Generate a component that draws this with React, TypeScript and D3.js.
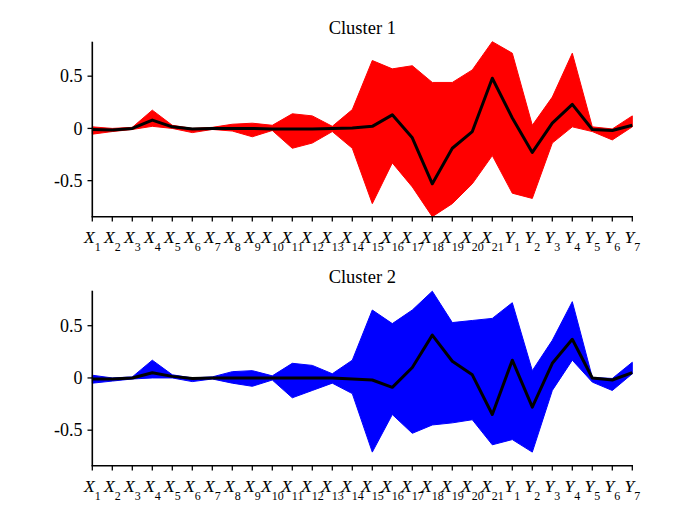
import * as d3 from "d3";
import { useEffect } from "react";

const categories = [
  "X1", "X2", "X3", "X4", "X5", "X6", "X7", "X8", "X9", "X10", "X11", "X12", "X13", "X14",
  "X15", "X16", "X17", "X18", "X19", "X20", "X21", "Y1", "Y2", "Y3", "Y4", "Y5", "Y6", "Y7",
];
const yTicks = [-0.5, 0, 0.5];

// envelope of all member lines + cluster centre
const cluster1Upper = [0.015, 0, 0.01, 0.175, 0.03, 0, 0.01, 0.04, 0.05, 0.03, 0.14, 0.12, 0.02, 0.18, 0.65, 0.57, 0.6, 0.44, 0.44, 0.56, 0.83, 0.72, 0.03, 0.3, 0.72, 0.015, -0.005, 0.12];
const cluster1Lower = [-0.055, -0.03, -0.01, 0.02, 0, -0.04, -0.01, -0.025, -0.08, -0.02, -0.19, -0.14, -0.03, -0.19, -0.72, -0.33, -0.56, -0.845, -0.72, -0.53, -0.26, -0.62, -0.67, -0.14, 0.015, -0.03, -0.11, 0.015];
const cluster1Mean = [-0.01, -0.016, 0, 0.08, 0.015, -0.005, 0, 0, 0, -0.005, -0.005, -0.005, 0, 0.005, 0.02, 0.13, -0.09, -0.53, -0.19, -0.03, 0.48, 0.1, -0.23, 0.05, 0.23, -0.01, -0.02, 0.03];

const cluster2Upper = [0.026, 0, 0.01, 0.17, 0.03, 0, 0.01, 0.06, 0.07, 0.02, 0.14, 0.12, 0.04, 0.17, 0.65, 0.52, 0.65, 0.83, 0.53, 0.55, 0.57, 0.72, 0.07, 0.36, 0.73, 0.005, -0.005, 0.15];
const cluster2Lower = [-0.05, -0.03, -0.01, 0, 0, -0.035, -0.01, -0.05, -0.08, -0.02, -0.19, -0.12, -0.05, -0.15, -0.71, -0.35, -0.53, -0.45, -0.43, -0.4, -0.64, -0.59, -0.71, -0.12, 0.17, -0.04, -0.12, 0.04];
const cluster2Mean = [-0.01, -0.01, 0, 0.05, 0.015, -0.005, 0, 0, 0, 0, 0, 0, 0, -0.01, -0.02, -0.09, 0.1, 0.41, 0.16, 0.03, -0.35, 0.17, -0.28, 0.14, 0.37, 0, -0.02, 0.05];

const W = 700;
const H = 525;
const font = "'Liberation Serif', 'Times New Roman', serif";

type PanelProps = {
  title: string;
  upper: number[];
  lower: number[];
  mean: number[];
  color: string;
  top: number;
  domain: [number, number];
};

function Panel({ title, upper, lower, mean, color, top, domain }: PanelProps) {
  const plotH = 175;
  const x = d3.scalePoint<string>().domain(categories).range([92.3, 632.3]);
  const y = d3.scaleLinear().domain(domain).range([top + plotH, top]);
  const bottom = top + plotH;

  const band = d3
    .area<string>()
    .x(c => x(c)!)
    .y0((_, i) => y(lower[i]))
    .y1((_, i) => y(upper[i]));
  const line = d3
    .line<string>()
    .x(c => x(c)!)
    .y((_, i) => y(mean[i]));

  return (
    <g>
      <text x={362.3} y={top - 7.5} textAnchor="middle" fontSize={18.5} fontFamily={font}>
        {title}
      </text>
      <path d={band(categories)!} fill={color} stroke={color} strokeWidth={1} strokeLinejoin="miter" />
      <path d={line(categories)!} fill="none" stroke="#000" strokeWidth={3} strokeLinejoin="round" />
      <line x1={92.3} x2={92.3} y1={top} y2={bottom} stroke="#000" strokeWidth={1.6} />
      <line x1={91.5} x2={633} y1={bottom} y2={bottom} stroke="#000" strokeWidth={1.6} />
      {yTicks.map(t => (
        <g key={t}>
          <line x1={87.5} x2={92.3} y1={y(t)} y2={y(t)} stroke="#000" strokeWidth={1.3} />
          <text x={82.5} y={y(t)} dy="0.35em" textAnchor="end" fontSize={18} fontFamily={font}>
            {t === 0 ? "0" : t < 0 ? `-${Math.abs(t)}` : `${t}`}
          </text>
        </g>
      ))}
      {categories.map(c => (
        <g key={c}>
          <line x1={x(c)} x2={x(c)} y1={bottom} y2={bottom + 4.8} stroke="#000" strokeWidth={1.3} />
          <text x={x(c)} y={bottom + 25.8} textAnchor="middle" fontSize={17.5} fontFamily={font}>
            <tspan fontStyle="italic">{c[0]}</tspan>
            <tspan fontSize={12} dy={8.5}>{c.slice(1)}</tspan>
          </text>
        </g>
      ))}
    </g>
  );
}

export default function App() {
  useEffect(() => {
    document.body.style.margin = "0";
  }, []);

  return (
    <svg width={W} height={H} style={{ display: "block", background: "#fff" }}>
      <Panel
        title="Cluster 1"
        upper={cluster1Upper}
        lower={cluster1Lower}
        mean={cluster1Mean}
        color="#ff0000"
        top={41.7}
        domain={[-0.845, 0.83]}
      />
      <Panel
        title="Cluster 2"
        upper={cluster2Upper}
        lower={cluster2Lower}
        mean={cluster2Mean}
        color="#0000ff"
        top={290.7}
        domain={[-0.84, 0.835]}
      />
    </svg>
  );
}
